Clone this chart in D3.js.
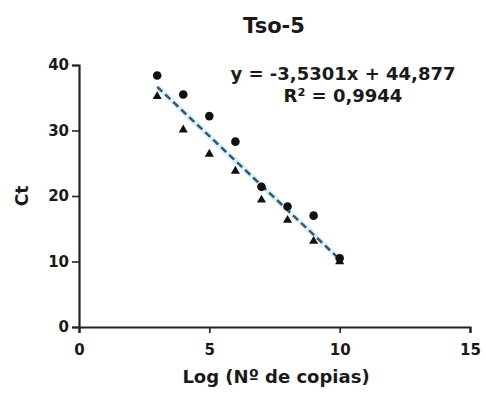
<!DOCTYPE html>
<html lang="es">
<head>
<meta charset="UTF-8">
<title>Tso-5</title>
<script src="https://d3js.org/d3.v7.min.js"></script>
<style>
  body { margin: 0; background: #fff; }
  text { font-family: "DejaVu Sans", "Liberation Sans", Arial, sans-serif; font-weight: bold; fill: #1a1a1a; }
</style>
</head>
<body>
<div id="chart"></div>
<script>
// data
const logCopies = [3, 4, 5, 6, 7, 8, 9, 10];
const ctCircles = [38.4, 35.5, 32.2, 28.3, 21.4, 18.4, 17.0, 10.5];
const ctTriangles = [35.2, 30.1, 26.4, 23.8, 19.4, 16.3, 13.1, 10.0];
const xTicks = [0, 5, 10, 15];
const yTicks = [0, 10, 20, 30, 40];
const eqLines = ["y = -3,5301x + 44,877", "R\u00b2 = 0,9944"];

const width = 486, height = 395;
const margin = { top: 65, right: 16, bottom: 68, left: 79 };

const svg = d3.select("#chart").append("svg")
    .attr("width", width)
    .attr("height", height);

const x = d3.scaleLinear().domain([0, 15]).range([margin.left, width - margin.right]);
const y = d3.scaleLinear().domain([0, 40]).range([height - margin.bottom, margin.top]);

// axes
const xAxis = svg.append("g")
    .attr("transform", `translate(0,${y(0)})`)
    .call(d3.axisBottom(x).tickValues(xTicks).tickSize(6).tickPadding(11));
const yAxis = svg.append("g")
    .attr("transform", `translate(${x(0)},0)`)
    .call(d3.axisLeft(y).tickValues(yTicks).tickSize(7).tickPadding(3));

[xAxis, yAxis].forEach(a => {
    a.select(".domain").attr("stroke", "#222").attr("stroke-width", 2.2);
    a.selectAll(".tick line").attr("stroke", "#222").attr("stroke-width", 1.6);
    a.selectAll(".tick text")
        .style("font-size", "15px")
        .style("font-family", "'DejaVu Sans', Arial, sans-serif")
        .style("font-weight", "bold")
        .style("fill", "#1a1a1a");
});

// regression line through both series
const all = [];
logCopies.forEach((v, i) => { all.push([v, ctCircles[i]]); all.push([v, ctTriangles[i]]); });
const mx = d3.mean(all, d => d[0]), my = d3.mean(all, d => d[1]);
const slope = d3.sum(all, d => (d[0] - mx) * (d[1] - my)) / d3.sum(all, d => (d[0] - mx) ** 2);
const icpt = my - slope * mx;
const x0 = d3.min(logCopies), x1 = d3.max(logCopies);

svg.append("line")
    .attr("x1", x(x0)).attr("y1", y(slope * x0 + icpt))
    .attr("x2", x(x1)).attr("y2", y(slope * x1 + icpt))
    .attr("stroke", "#e2eff5").attr("stroke-width", 6);
svg.append("line")
    .attr("x1", x(x0)).attr("y1", y(slope * x0 + icpt))
    .attr("x2", x(x1)).attr("y2", y(slope * x1 + icpt))
    .attr("stroke", "#2a5a70").attr("stroke-width", 2.5)
    .attr("stroke-dasharray", "7,4");

// markers
svg.selectAll(".tri")
    .data(logCopies)
    .enter().append("path")
    .attr("class", "tri")
    .attr("d", d3.symbol().type(d3.symbolTriangle).size(36))
    .attr("transform", (d, i) => `translate(${x(d)},${y(ctTriangles[i])})`)
    .attr("fill", "#111");

svg.selectAll(".dot")
    .data(logCopies)
    .enter().append("circle")
    .attr("class", "dot")
    .attr("cx", d => x(d))
    .attr("cy", (d, i) => y(ctCircles[i]))
    .attr("r", 4.3)
    .attr("fill", "#111");

// title
svg.append("text")
    .attr("x", 274).attr("y", 33)
    .attr("text-anchor", "middle")
    .style("font-size", "21px")
    .text("Tso-5");

// equation
svg.selectAll(".eq")
    .data(eqLines)
    .enter().append("text")
    .attr("class", "eq")
    .attr("x", 343)
    .attr("y", (d, i) => 80 + i * 22)
    .attr("text-anchor", "middle")
    .style("font-size", "18px")
    .text(d => d);

// axis titles
svg.append("text")
    .attr("x", 276).attr("y", 383)
    .attr("text-anchor", "middle")
    .style("font-size", "18px")
    .text("Log (N\u00ba de copias)");

svg.append("text")
    .attr("transform", `translate(28,${y(20)}) rotate(-90)`)
    .attr("text-anchor", "middle")
    .style("font-size", "17px")
    .text("Ct");
</script>
</body>
</html>
